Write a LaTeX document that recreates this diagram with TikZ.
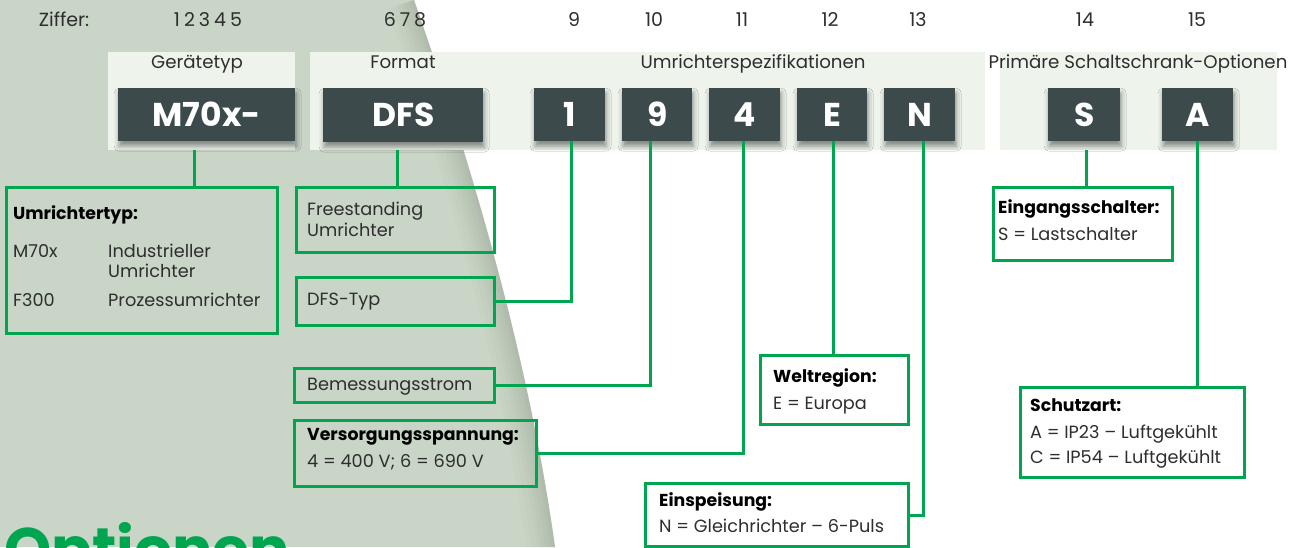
\documentclass[tikz,border=0pt]{standalone}
\usepackage{fontspec}
\setmainfont{Poppins}
\usetikzlibrary{shadows.blur}
\definecolor{bgc}{HTML}{C9D5C6}
\definecolor{edgec}{HTML}{7F8A78}
\definecolor{panelc}{HTML}{EEF4EC}
\definecolor{darkc}{HTML}{3C4A4B}
\definecolor{gc}{HTML}{00A64F}
\definecolor{txt}{HTML}{2E2E2E}
\tikzset{
  gbox/.style={draw=gc, line width=3pt, inner sep=0pt, anchor=north west},
  dbox/.style={fill=darkc, text=white, font=\bfseries\fontsize{33}{33}\selectfont, inner sep=0pt, anchor=north west,
     blur shadow={shadow xshift=1pt, shadow yshift=-5pt, shadow blur radius=5pt, shadow opacity=45}},
  panel/.style={fill=panelc, inner sep=0pt, anchor=north west},
  conn/.style={draw=gc, line width=3pt},
  lab/.style={text=txt, font=\fontsize{17.7}{17.7}\selectfont, anchor=base west, inner sep=0pt},
  blab/.style={text=black, font=\bfseries\fontsize{17.3}{17.3}\selectfont, anchor=base west, inner sep=0pt},
  plab/.style={text=txt, font=\fontsize{18.2}{18.2}\selectfont, anchor=base, inner sep=0pt},
  dig/.style={text=txt, font=\fontsize{19}{19}\selectfont, anchor=base, inner sep=0pt},
}
\begin{document}
\begin{tikzpicture}[x=1pt,y=-1pt]
\useasboundingbox (0,0) rectangle (1294,547);
% background
\fill[white] (0,0) rectangle (1294,547);
\fill[bgc] (0,0) -- (414,0) .. controls (477,180) and (530,367) .. (555,547) -- (0,547) -- cycle;
\begin{scope}
  \clip (0,0) -- (414,0) .. controls (477,180) and (530,367) .. (555,547) -- (0,547) -- cycle;
  \foreach \w/\o in {56/0.04,46/0.04,36/0.05,28/0.05,20/0.06,12/0.06,6/0.06}
    \draw[edgec, line width=\w pt, opacity=\o] (414,0) .. controls (477,180) and (530,367) .. (555,547);
\end{scope}
% title
\node[text=gc, font=\bfseries\fontsize{60}{60}\selectfont, anchor=base west, inner sep=0pt] (title) at (4,570) {Optionen};
% digit row
\node[dig] (zif) at (64,26) {Ziffer:};
\node[dig] (d1) at (208,26) {1\hspace{4pt}2\hspace{4pt}3\hspace{4pt}4\hspace{4pt}5};
\node[dig] (d6) at (405,26) {6\hspace{4pt}7\hspace{4pt}8};
\node[dig] (d9) at (574,26) {9};
\node[dig] (d10) at (654,26) {10};
\node[dig] (d11) at (742,26) {11};
\node[dig] (d12) at (830,26) {12};
\node[dig] (d13) at (918,26) {13};
\node[dig] (d14) at (1085,26) {14};
\node[dig] (d15) at (1197,26) {15};
% panels
\node[panel, minimum width=187pt, minimum height=98pt] (pg) at (108,52) {};
\node[panel, minimum width=675pt, minimum height=98pt] (pf) at (310,52) {};
\node[panel, minimum width=277pt, minimum height=98pt] (pp) at (1000,52) {};
\node[plab] (lg) at (197,68) {Gerätetyp};
\node[plab] (lf) at (403,68) {Format};
\node[plab] (lu) at (753,68) {Umrichterspezifikationen};
\node[plab] (lp) at (1138,68) {Primäre Schaltschrank-Optionen};
% dark code boxes
\node[dbox, minimum width=177pt, minimum height=53pt] (m70) at (118,88) {M70x-};
\node[dbox, minimum width=160pt, minimum height=54pt] (dfs) at (323,88) {DFS};
\node[dbox, minimum width=71pt, minimum height=53pt] (b1) at (534,88) {1};
\node[dbox, minimum width=70pt, minimum height=53pt] (b9) at (622,88) {9};
\node[dbox, minimum width=71pt, minimum height=53pt] (b4) at (709,88) {4};
\node[dbox, minimum width=70pt, minimum height=53pt] (bE) at (797,88) {E};
\node[dbox, minimum width=71pt, minimum height=53pt] (bN) at (884,88) {N};
\node[dbox, minimum width=72pt, minimum height=53pt] (bS) at (1048,88) {S};
\node[dbox, minimum width=71pt, minimum height=53pt] (bA) at (1162,88) {A};
% green boxes
\node[gbox, minimum width=271pt, minimum height=146pt] (ut) at (5,186) {};
\node[gbox, minimum width=198pt, minimum height=65pt] (fs) at (295,186) {};
\node[gbox, minimum width=198pt, minimum height=48pt] (dt) at (295,276) {};
\node[gbox, minimum width=200pt, minimum height=34pt] (bem) at (293,367) {};
\node[gbox, minimum width=242pt, minimum height=66pt] (vs) at (293,419) {};
\node[gbox, fill=white, minimum width=148pt, minimum height=69pt] (wr) at (759,354) {};
\node[gbox, fill=white, minimum width=263pt, minimum height=63pt] (ei) at (644,482) {};
\node[gbox, fill=white, minimum width=179pt, minimum height=73pt] (es) at (992,186) {};
\node[gbox, fill=white, minimum width=224pt, minimum height=90pt] (sa) at (1019,386) {};
% box texts
\node[blab] (t1) at (13,219) {Umrichtertyp:};
\node[lab] (t2) at (13,257) {M70x};
\node[lab] (t3) at (108,257) {Industrieller};
\node[lab] (t4) at (108,277) {Umrichter};
\node[lab] (t5) at (13,306) {F300};
\node[lab] (t6) at (108,306) {Prozessumrichter};
\node[lab] (t7) at (307,215) {Freestanding};
\node[lab] (t8) at (307,236) {Umrichter};
\node[lab] (t9) at (307,305) {DFS-Typ};
\node[lab] (t10) at (307,390) {Bemessungsstrom};
\node[blab] (t11) at (307,440) {Versorgungsspannung:};
\node[lab] (t12) at (307,467) {4 = 400 V; 6 = 690 V};
\node[blab] (t13) at (773,382) {Weltregion:};
\node[lab] (t14) at (773,409) {E = Europa};
\node[blab] (t15) at (659,506) {Einspeisung:};
\node[lab] (t16) at (659,532) {N = Gleichrichter – 6-Puls};
\node[blab] (t17) at (998,213) {Eingangsschalter:};
\node[lab] (t18) at (998,240) {S = Lastschalter};
\node[blab] (t19) at (1030,411) {Schutzart:};
\node[lab] (t20) at (1030,438) {A = IP23 – Luftgekühlt};
\node[lab] (t21) at (1030,463) {C = IP54 – Luftgekühlt};
% connectors
\coordinate (xm) at (194,0);
\coordinate (xd) at (397,0);
\coordinate (xs) at (1086,0);
\draw[conn] (xm |- pg.south) -- (xm |- ut.north);
\draw[conn] (xd |- pf.south) -- (xd |- fs.north);
\draw[conn] ([xshift=2pt]b1.south) |- (dt.east);
\draw[conn] ([xshift=-7pt]b9.south) |- (bem.east);
\draw[conn] ([xshift=-1.5pt]b4.south) |- (vs.east);
\draw[conn] ([xshift=1.5pt]bE.south) -- ([xshift=1.5pt]bE.south |- wr.north);
\draw[conn] ([xshift=4pt]bN.south) |- (ei.east);
\draw[conn] (xs |- pp.south) -- (xs |- es.north);
\draw[conn] (bA.south) -- (bA.south |- sa.north);
\end{tikzpicture}
\end{document}
